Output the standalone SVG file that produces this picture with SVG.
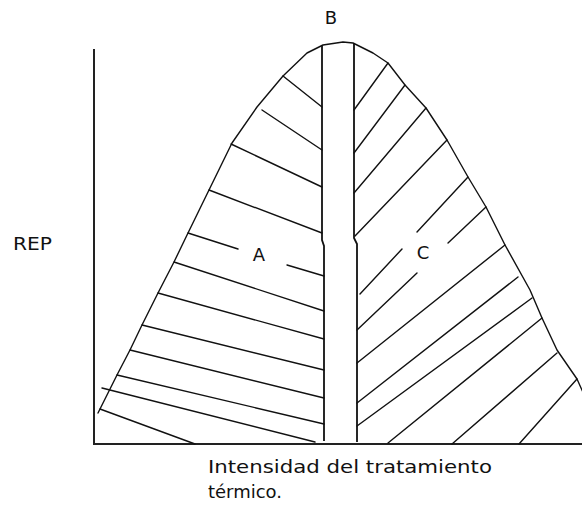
<svg xmlns="http://www.w3.org/2000/svg" width="582" height="510" viewBox="0 0 582 510">
<style>
.ax{stroke:#222;stroke-width:2;fill:none}
.cv{stroke:#111;stroke-width:1.4;fill:none;stroke-linejoin:round;stroke-linecap:round}
.h{stroke:#111;stroke-width:1.4;fill:none;stroke-linecap:round}
.v{stroke:#111;stroke-width:1.8;fill:none}
.t{font-family:"DejaVu Sans","Liberation Sans",sans-serif;fill:#111}
</style>
<rect width="582" height="510" fill="#fff"/>
<g id="axes">
<path class="ax" d="M94,49 V444 H582"/>
</g>
<g id="curve">
<path class="cv" d="M98,413 L110,389 L117,375 L130,350 L142,325 L158,293 L174,262 L188,233 L209,190 L232,143 L257,107 L283,76 L307,53 L323,45 L343,42 L353,43 L373,53 L388,63 L405,85 L426,108 L447,140 L468,177 L486,207 L505,245 L530,290 L542,318 L557,350 L577,379 L590,408"/>
</g>
<g id="region-B">
<path class="v" d="M322,46 L322,240 L324,246 L324,441"/>
<path class="v" d="M354,43 L354,238 L357,244 L357,442"/>
</g>
<g id="connectors">
<g id="hatch-A">
<path class="h" d="M283,76 L322,107"/>
<path class="h" d="M262,110 L322,150"/>
<path class="h" d="M231,144 L322,187"/>
<path class="h" d="M209,190 L322,233"/>
<path class="h" d="M188,233 L238,249"/>
<path class="h" d="M287,265 L324,276"/>
<path class="h" d="M174,262 L324,311"/>
<path class="h" d="M158,293 L324,339"/>
<path class="h" d="M142,325 L324,370"/>
<path class="h" d="M130,350 L324,398"/>
<path class="h" d="M117,375 L324,424"/>
<path class="h" d="M102,388 L315,442"/>
<path class="h" d="M100,409 L195,444"/>
</g>
<g id="hatch-C">
<path class="h" d="M388,63 L354,110"/>
<path class="h" d="M405,85 L354,153"/>
<path class="h" d="M426,108 L354,193"/>
<path class="h" d="M447,140 L355,236"/>
<path class="h" d="M468,177 L417,232"/>
<path class="h" d="M402,249 L360,294"/>
<path class="h" d="M486,207 L448,243"/>
<path class="h" d="M417,273 L357,330"/>
<path class="h" d="M505,245 L357,363"/>
<path class="h" d="M518,277 L357,403"/>
<path class="h" d="M532,298 L357,426"/>
<path class="h" d="M542,318 L388,443"/>
<path class="h" d="M557,353 L452,444"/>
<path class="h" d="M577,379 L519,444"/>
</g>
</g>
<g id="labels">
<text class="t" x="331" y="24" font-size="18" text-anchor="middle">B</text>
<text class="t" x="13" y="250" font-size="18" textLength="39" lengthAdjust="spacingAndGlyphs">REP</text>
<text class="t" x="259" y="261" font-size="18" text-anchor="middle">A</text>
<text class="t" x="423" y="259" font-size="18" text-anchor="middle">C</text>
<text class="t" x="208" y="473" font-size="18" textLength="284" lengthAdjust="spacingAndGlyphs">Intensidad del tratamiento</text>
<text class="t" x="208" y="498" font-size="18" textLength="74" lengthAdjust="spacingAndGlyphs">térmico.</text>
</g>
</svg>
